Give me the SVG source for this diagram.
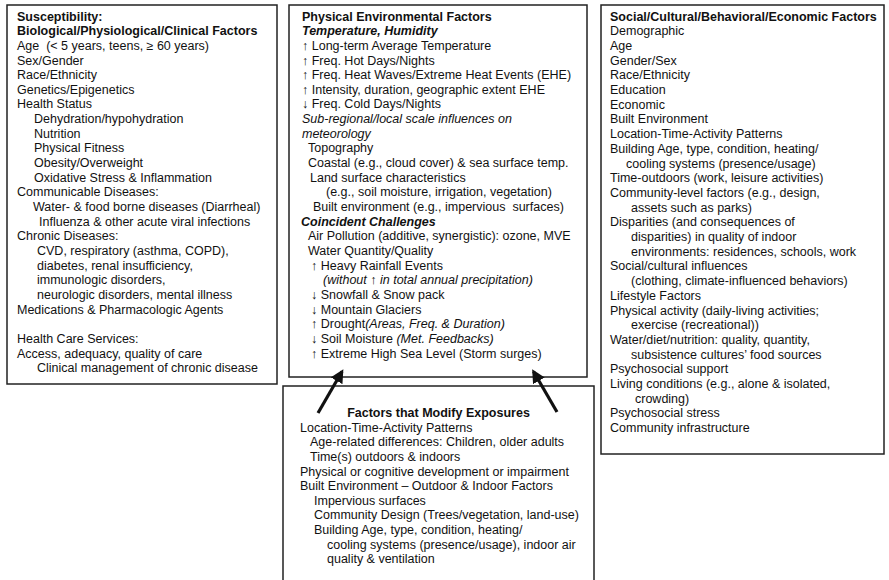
<svg xmlns="http://www.w3.org/2000/svg" width="889" height="580" viewBox="0 0 889 580">
<style>
text{font-family:"Liberation Sans",Arial,sans-serif;font-size:12.5px;fill:#111;white-space:pre}
.b{font-weight:bold}
.i{font-style:italic}
.bi{font-weight:bold;font-style:italic}
.box{fill:#fff;stroke:#222;stroke-width:1.5}
.conn{stroke:#111;stroke-width:3.2;fill:none}
</style>
<defs>
<marker id="ah" viewBox="0 0 10 10" refX="8" refY="5" markerWidth="4.2" markerHeight="4.2" orient="auto" markerUnits="strokeWidth">
<path d="M0,0 L10,5 L0,10 z" fill="#111"/>
</marker>
</defs>
<rect width="889" height="580" fill="#fff"/>

<g id="susceptibility">
<rect class="box" x="7" y="5" width="270" height="379"/>
<text class="b" x="17" y="20.5">Susceptibility:</text>
<text class="b" x="17" y="35.2">Biological/Physiological/Clinical Factors</text>
<text x="17" y="49.8">Age  (&lt; 5 years, teens, ≥ 60 years)</text>
<text x="17" y="64.5">Sex/Gender</text>
<text x="17" y="79.1">Race/Ethnicity</text>
<text x="17" y="93.8">Genetics/Epigenetics</text>
<text x="17" y="108.4">Health Status</text>
<text x="34" y="123.1">Dehydration/hypohydration</text>
<text x="34" y="137.7">Nutrition</text>
<text x="34" y="152.4">Physical Fitness</text>
<text x="34" y="167">Obesity/Overweight</text>
<text x="34" y="181.7">Oxidative Stress &amp; Inflammation</text>
<text x="17" y="196.3">Communicable Diseases:</text>
<text x="33" y="211">Water- &amp; food borne diseases (Diarrheal)</text>
<text x="39" y="225.6">Influenza &amp; other acute viral infections</text>
<text x="17" y="240.3">Chronic Diseases:</text>
<text x="37" y="254.9">CVD, respiratory (asthma, COPD),</text>
<text x="37" y="269.6">diabetes, renal insufficiency,</text>
<text x="37" y="284.2">immunologic disorders,</text>
<text x="37" y="298.9">neurologic disorders, mental illness</text>
<text x="17" y="313.5">Medications &amp; Pharmacologic Agents</text>
<text x="17" y="342.8">Health Care Services:</text>
<text x="17" y="357.5">Access, adequacy, quality of care</text>
<text x="37" y="372.1">Clinical management of chronic disease</text>
</g>

<g id="physical-environment">
<rect class="box" x="289" y="5" width="298" height="372"/>
<text class="b" x="302" y="20.5">Physical Environmental Factors</text>
<text class="bi" x="302" y="35.2">Temperature, Humidity</text>
<text x="302" y="49.8">↑ Long-term Average Temperature</text>
<text x="302" y="64.5">↑ Freq. Hot Days/Nights</text>
<text x="302" y="79.1">↑ Freq. Heat Waves/Extreme Heat Events (EHE)</text>
<text x="302" y="93.8">↑ Intensity, duration, geographic extent EHE</text>
<text x="302" y="108.4">↓ Freq. Cold Days/Nights</text>
<text class="i" x="302" y="123.1">Sub-regional/local scale influences on</text>
<text class="i" x="302" y="137.7">meteorology</text>
<text x="308" y="152.4">Topography</text>
<text x="308" y="167">Coastal (e.g., cloud cover) &amp; sea surface temp.</text>
<text x="310" y="181.7">Land surface characteristics</text>
<text x="326" y="196.3">(e.g., soil moisture, irrigation, vegetation)</text>
<text x="313" y="211">Built environment (e.g., impervious  surfaces)</text>
<text class="bi" x="301" y="225.6">Coincident Challenges</text>
<text x="308" y="240.3">Air Pollution (additive, synergistic): ozone, MVE</text>
<text x="308" y="254.9">Water Quantity/Quality</text>
<text x="311" y="269.6">↑ Heavy Rainfall Events</text>
<text class="i" x="323" y="284.2">(without ↑ in total annual precipitation)</text>
<text x="311" y="298.9">↓ Snowfall &amp; Snow pack</text>
<text x="311" y="313.5">↓ Mountain Glaciers</text>
<text x="311" y="328.2">↑ Drought<tspan class="i">(Areas, Freq. &amp; Duration)</tspan></text>
<text x="311" y="342.8">↓ Soil Moisture <tspan class="i">(Met. Feedbacks)</tspan></text>
<text x="311" y="357.5">↑ Extreme High Sea Level (Storm surges)</text>
</g>

<g id="social">
<rect class="box" x="601" y="5" width="283" height="449"/>
<text class="b" x="610" y="20.5">Social/Cultural/Behavioral/Economic Factors</text>
<text x="610" y="35.2">Demographic</text>
<text x="610" y="49.9">Age</text>
<text x="610" y="64.6">Gender/Sex</text>
<text x="610" y="79.3">Race/Ethnicity</text>
<text x="610" y="94">Education</text>
<text x="610" y="108.7">Economic</text>
<text x="610" y="123.4">Built Environment</text>
<text x="610" y="138.1">Location-Time-Activity Patterns</text>
<text x="610" y="152.8">Building Age, type, condition, heating/</text>
<text x="626" y="167.5">cooling systems (presence/usage)</text>
<text x="610" y="182.2">Time-outdoors (work, leisure activities)</text>
<text x="610" y="196.9">Community-level factors (e.g., design,</text>
<text x="631" y="211.6">assets such as parks)</text>
<text x="610" y="226.3">Disparities (and consequences of</text>
<text x="631" y="241">disparities) in quality of indoor</text>
<text x="631" y="255.7">environments: residences, schools, work</text>
<text x="610" y="270.4">Social/cultural influences</text>
<text x="631" y="285.1">(clothing, climate-influenced behaviors)</text>
<text x="610" y="299.8">Lifestyle Factors</text>
<text x="610" y="314.5">Physical activity (daily-living activities;</text>
<text x="631" y="329.2">exercise (recreational))</text>
<text x="610" y="343.9">Water/diet/nutrition: quality, quantity,</text>
<text x="631" y="358.6">subsistence cultures’ food sources</text>
<text x="610" y="373.3">Psychosocial support</text>
<text x="610" y="388">Living conditions (e.g., alone &amp; isolated,</text>
<text x="635" y="402.7">crowding)</text>
<text x="610" y="417.4">Psychosocial stress</text>
<text x="610" y="432.1">Community infrastructure</text>
</g>

<g id="modifying-factors">
<rect class="box" x="283" y="386" width="311" height="200"/>
<text class="b" x="438.5" y="417.2" text-anchor="middle">Factors that Modify Exposures</text>
<text x="300" y="431.8">Location-Time-Activity Patterns</text>
<text x="310" y="446.4">Age-related differences: Children, older adults</text>
<text x="310" y="461">Time(s) outdoors &amp; indoors</text>
<text x="300" y="475.6">Physical or cognitive development or impairment</text>
<text x="300" y="490.2">Built Environment – Outdoor &amp; Indoor Factors</text>
<text x="314" y="504.8">Impervious surfaces</text>
<text x="314" y="519.4">Community Design (Trees/vegetation, land-use)</text>
<text x="314" y="534">Building Age, type, condition, heating/</text>
<text x="327" y="548.6">cooling systems (presence/usage), indoor air</text>
<text x="327" y="563.2">quality &amp; ventilation</text>
</g>

<g id="connectors">
<line class="conn" x1="318" y1="413" x2="342" y2="371.5" marker-end="url(#ah)"/>
<line class="conn" x1="557" y1="412" x2="533.5" y2="371.5" marker-end="url(#ah)"/>
</g>
</svg>
